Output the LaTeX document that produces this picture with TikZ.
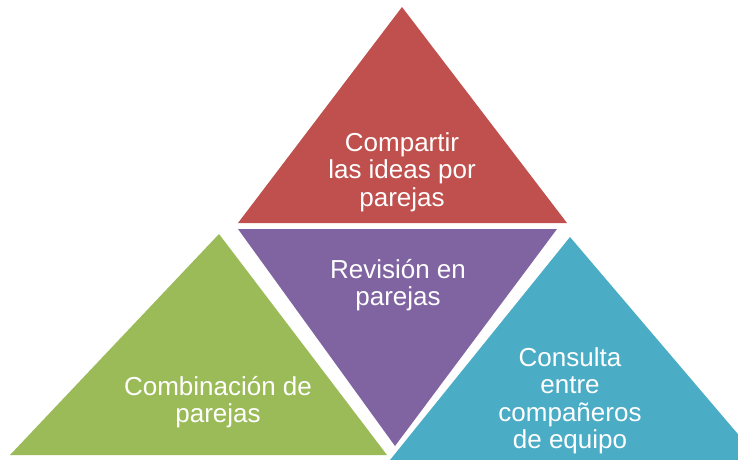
\documentclass[tikz,border=0pt]{standalone}
\usepackage{fontspec}
\setmainfont{Liberation Sans}
\definecolor{cred}{HTML}{C0504D}
\definecolor{cpurple}{HTML}{8064A2}
\definecolor{cgreen}{HTML}{9BBB59}
\definecolor{cblue}{HTML}{4BACC6}
\begin{document}
\begin{tikzpicture}[x=1pt,y=-1pt,
  lbl/.style={text=white,font=\fontsize{26}{27.5}\selectfont,align=center,inner sep=0pt}]
\useasboundingbox (0,0) rectangle (738,459);
\clip (0,0) rectangle (738,459);
\fill[cred] (238,223) -- (567,223) -- (402,7) -- cycle;
\fill[cpurple] (238,229) -- (557,229) -- (395,446) -- cycle;
\fill[cgreen] (10,455) -- (387,455) -- (219,234) -- cycle;
\fill[cblue] (390,460) -- (760,460) -- (570,237) -- cycle;
\node[lbl] (t1) at (402,172) {Compartir\\las ideas por\\parejas};
\node[lbl] (t2) at (398,285) {Revisión en\\parejas};
\node[lbl] (t3) at (218,402) {Combinación de\\parejas};
\node[lbl] (t4) at (570,401) {Consulta\\entre\\compañeros\\de equipo};
\end{tikzpicture}
\end{document}
